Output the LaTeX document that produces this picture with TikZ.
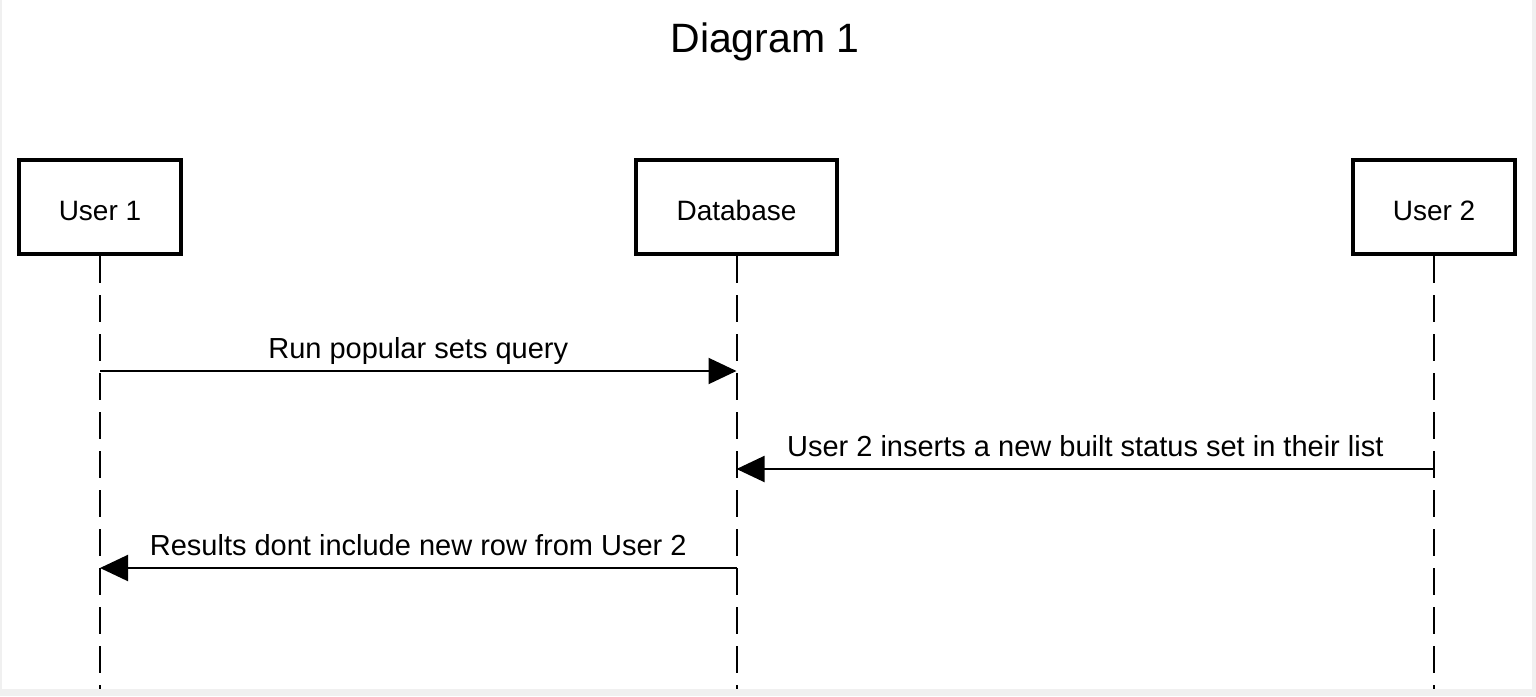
\documentclass[tikz,border=0pt]{standalone}
\usepackage{fontspec}
\setmainfont{Liberation Sans}
\usetikzlibrary{arrows.meta}

\begin{document}
\begin{tikzpicture}[x=1pt,y=-1pt,line width=2pt,
  actor/.style={draw,line width=4.5pt,minimum height=94pt,text height=26pt,text depth=0pt,font=\fontsize{28}{34}\selectfont},
  lifeline/.style={dash pattern=on 27pt off 12pt},
  msg/.style={-{Triangle[length=28pt,width=26pt]}},
  msglabel/.style={anchor=base,yshift=13pt,font=\fontsize{29}{35}\selectfont}]
\fill[black!6] (0,0) rectangle (1536,696);
\fill[white] (2,0) rectangle (1532,689);
\node[anchor=base,font=\fontsize{41}{49}\selectfont] (title) at (765,52) {Diagram 1};
\node[actor,minimum width=162pt] (user1) at (100,207) {User 1};
\node[actor,minimum width=201pt] (db) at (736.5,207) {Database};
\node[actor,minimum width=162pt] (user2) at (1434,207) {User 2};
\foreach \who in {user1,db,user2}{
  \coordinate (\who-end) at (\who.south |- 0,689);
  \draw[lifeline] (\who.south) -- (\who-end);
}
\coordinate (q1a) at (user1 |- 0,371);
\coordinate (q1b) at (db |- 0,371);
\coordinate (q2a) at (user2 |- 0,469);
\coordinate (q2b) at (db |- 0,469);
\coordinate (q3a) at (db |- 0,568);
\coordinate (q3b) at (user1 |- 0,568);
\draw[msg] (q1a) -- node[msglabel] (lab1) {Run popular sets query} (q1b);
\draw[msg] (q2a) -- node[msglabel] (lab2) {User 2 inserts a new built status set in their list} (q2b);
\draw[msg] (q3a) -- node[msglabel] (lab3) {Results dont include new row from User 2} (q3b);
\end{tikzpicture}
\end{document}
